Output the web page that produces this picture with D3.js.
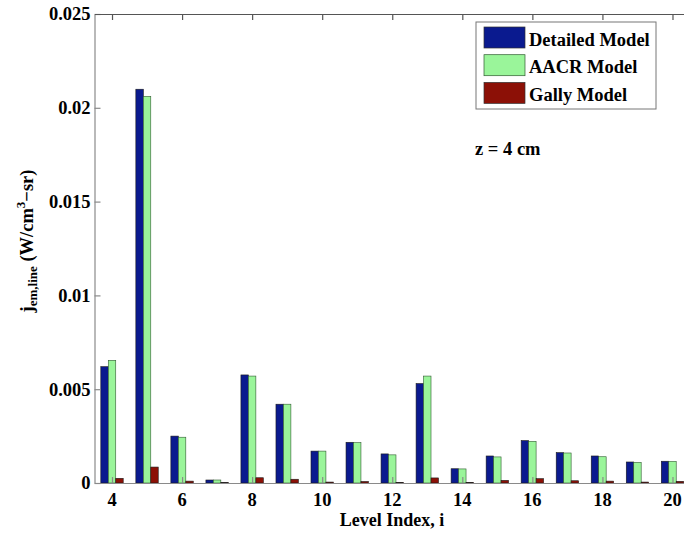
<!DOCTYPE html>
<html><head><meta charset="utf-8">
<script src="https://cdn.jsdelivr.net/npm/d3@7"></script>
<style>body{margin:0;background:#fff}svg{display:block}
svg text{font-family:"Liberation Serif","Times New Roman",Times,serif;font-weight:bold}</style>
</head><body>
<svg id="c" width="684" height="535"></svg>
<script>
const levels = [4,5,6,7,8,9,10,11,12,13,14,15,16,17,18,19,20];
const detailed = [0.0062,0.02099,0.0025,0.00016,0.00576,0.0042,0.0017,0.00217,0.00155,0.0053,0.00076,0.00144,0.00226,0.00162,0.00144,0.00112,0.00116];
const aacr     = [0.00654,0.02061,0.00244,0.00016,0.0057,0.0042,0.0017,0.00215,0.0015,0.0057,0.00075,0.00139,0.00222,0.0016,0.0014,0.0011,0.00115];
const gally    = [0.00025,0.00085,0.0001,0.00002,0.00028,0.0002,0.00005,0.00008,0.00003,0.00027,0.00003,0.00014,0.00023,0.00012,0.0001,0.00005,0.00009];
const seriesNames = ["Detailed Model","AACR Model","Gally Model"];
const colors = ["#0a1a8f","#9af59a","#8c1006"];
const xTicks = [4,6,8,10,12,14,16,18,20];
const yTicks = [0,0.005,0.01,0.015,0.02,0.025];
const yTickLabels = ["0","0.005","0.01","0.015","0.02","0.025"];

const svg = d3.select("#c");
const L = 94.5, R = 690, T = 14, B = 483;
const x = d3.scaleLinear().domain([3.5,20.5]).range([L,R]);
const y = d3.scaleLinear().domain([0,0.025]).range([B,T]);
const bw = 0.213;
const data = [detailed, aacr, gally];
const FS = 18.5;

data.forEach((arr,si)=>{
  svg.append("g").selectAll("rect").data(levels).join("rect")
    .attr("x", (d,i)=> x(d + (si-1)*bw - bw/2))
    .attr("width", x(bw) - x(0))
    .attr("y", (d,i)=> y(arr[i]))
    .attr("height", (d,i)=> y(0) - y(arr[i]))
    .attr("fill", colors[si])
    .attr("stroke", si===1 ? "#2f5a2f" : "#1a1a1a")
    .attr("stroke-width", 0.6);
});

const axisCol = "#8a8a8a";
const gL = svg.append("g").attr("transform",`translate(${L},0)`)
  .call(d3.axisRight(y).tickValues(yTicks).tickFormat("").tickSizeInner(6).tickSizeOuter(0));
const gB = svg.append("g").attr("transform",`translate(0,${B})`)
  .call(d3.axisTop(x).tickValues(xTicks).tickFormat("").tickSizeInner(6).tickSizeOuter(0));
const gT = svg.append("g").attr("transform",`translate(0,${T})`)
  .call(d3.axisBottom(x).tickValues(xTicks).tickFormat("").tickSizeInner(6).tickSizeOuter(0));
const gR = svg.append("g").attr("transform",`translate(${R},0)`)
  .call(d3.axisLeft(y).tickValues(yTicks).tickFormat("").tickSizeInner(6).tickSizeOuter(0));
[gL,gB,gT,gR].forEach(g=>{
  g.selectAll("path,line").attr("stroke",axisCol).attr("stroke-width",1.2);
});
gT.selectAll("path,line").attr("stroke","#555");

svg.append("g").selectAll("text").data(yTicks).join("text")
  .attr("x", L-4).attr("y", d=>y(d)).attr("dy","0.35em")
  .attr("text-anchor","end").attr("font-size",FS)
  .text((d,i)=>yTickLabels[i]);
svg.append("g").selectAll("text").data(xTicks).join("text")
  .attr("x", d=>x(d)).attr("y", B+22.5)
  .attr("text-anchor","middle").attr("font-size",FS)
  .text(d=>d);

svg.append("text").attr("x",392).attr("y",526).attr("text-anchor","middle")
  .attr("font-size",18).text("Level Index, i");
const yl = svg.append("text").attr("transform","translate(33,241) rotate(-90)").attr("text-anchor","middle")
  .attr("font-size",FS);
yl.append("tspan").text("j");
yl.append("tspan").attr("font-size",13).attr("dy",4).text("em,line");
yl.append("tspan").attr("dy",-4).text(" (W/cm");
yl.append("tspan").attr("font-size",13).attr("dy",-8).text("3");
yl.append("tspan").attr("dy",8).text("\u2212sr)");

const lg = svg.append("g");
lg.append("rect").attr("x",476).attr("y",22).attr("width",180).attr("height",87)
  .attr("fill","#fff").attr("stroke","#777").attr("stroke-width",1);
seriesNames.forEach((n,i)=>{
  const yy = 27 + i*27.7;
  lg.append("rect").attr("x",484).attr("y",yy).attr("width",41).attr("height",21)
    .attr("fill",colors[i]).attr("stroke",i===1?"#2f5a2f":"#333").attr("stroke-width",0.7);
  lg.append("text").attr("x",529).attr("y",yy+18.5)
    .attr("font-size",FS).text(n);
});
svg.append("text").attr("x",475).attr("y",154.5)
  .attr("font-size",FS).text("z = 4 cm");
</script>
</body></html>
